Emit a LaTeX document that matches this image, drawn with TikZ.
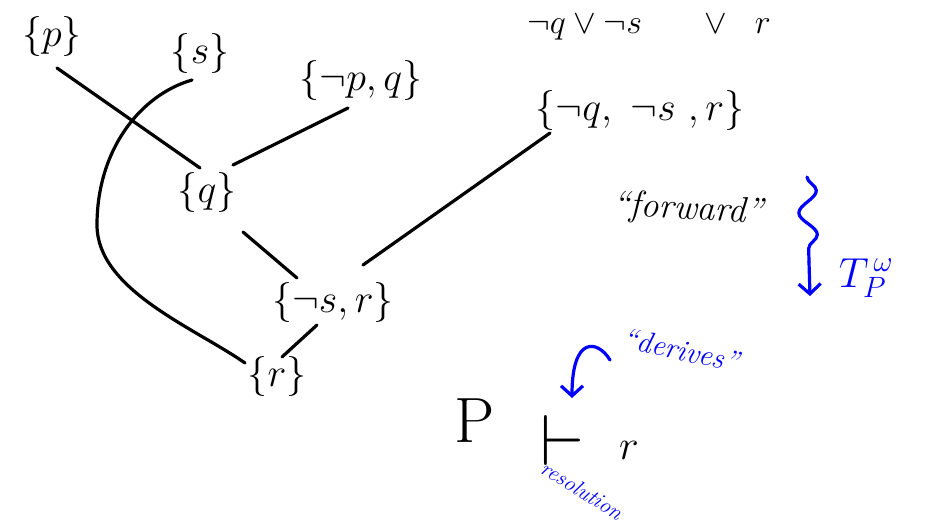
\RequirePackage{fix-cm}
\documentclass[tikz,border=0pt]{standalone}
\usetikzlibrary{decorations.pathmorphing,arrows.meta}
\begin{document}
\begin{tikzpicture}[x=1pt,y=-1pt,
  set/.style={font=\fontsize{40}{44}\selectfont, inner sep=0pt},
  edge/.style={line width=3.2pt, line cap=round, black},
  note/.style={blue, font=\fontsize{30}{34}\selectfont\itshape, inner sep=0pt},
  bluearrow/.style={blue, line width=3.2pt, line cap=round, line join=round, -{Straight Barb[length=10pt,width=22pt,line width=3.2pt]}}
]
\useasboundingbox (0,0) rectangle (930,528);
\fill[white] (0,0) rectangle (930,528);
% nodes
\node[set] (p) at (52,36) {$\{p\}$};
\node[set] (s) at (200,53) {$\{s\}$};
\node[set] (npq) at (361,80) {$\{\neg p, q\}$};
\node[set] (q) at (207,192) {$\{q\}$};
\node[set] (nqnsr) at (640,110) {$\{\neg q,\ \neg s\ , r\}$};
\node[font=\fontsize{34}{38}\selectfont, inner sep=0pt] (clause) at (649,27) {$\neg q \vee \neg s \quad\ \ \vee\ \ r$};
\node[set] (nsr) at (333,302) {$\{\neg s, r\}$};
\node[set] (r) at (277,376) {$\{r\}$};
\node[font=\fontsize{36}{40}\selectfont\itshape, inner sep=0pt, rotate=-3] (fwd) at (688,210) {``forward''};
\node[blue, font=\fontsize{42}{46}\selectfont, inner sep=0pt] (tp) at (866,278) {$T_P^{\,\omega}$};
\node[note, rotate=-12] (der) at (681,350) {``derives''};
\node[font=\fontsize{64}{70}\selectfont, inner sep=0pt] (P) at (475,421) {P};
\node[font=\fontsize{72}{78}\selectfont, inner sep=0pt] (ts) at (562,440) {$\vdash$};
\node[font=\fontsize{42}{46}\selectfont, inner sep=0pt] (rr) at (629,450) {$r$};
\node[note, font=\fontsize{22}{26}\selectfont\itshape, rotate=-32] (res) at (582,490) {resolution};
% connectors
\draw[edge] ([shift={(5,32)}]p.center) -- ([shift={(-7,-24)}]q.center);
\draw[edge] ([shift={(-13,28)}]npq.center) -- ([shift={(26,-27)}]q.center);
\draw[edge] ([shift={(36,40)}]q.center) -- ([shift={(-36,-24)}]nsr.center);
\draw[edge] ([shift={(-90,23)}]nqnsr.center) -- ([shift={(30,-37)}]nsr.center);
\draw[edge] ([shift={(-16,23)}]nsr.center) -- ([shift={(5,-19)}]r.center);
\draw[edge] ([shift={(-8,27)}]s.center) .. controls (140,95) and (97,150) .. (97,225)
  .. controls (97,290) and (195,328) .. ([shift={(-32,-13)}]r.center);
% forward arrow
\coordinate (wtop) at (807,177);
\coordinate (wmid) at (809,262);
\coordinate (wbot) at (810,296);
\draw[blue, line width=3.2pt, line cap=round, decorate, decoration={snake, segment length=44pt, amplitude=9pt}] (wtop) -- (wmid);
\draw[bluearrow] (wmid) -- (wbot);
% derives arrow
\draw[bluearrow] ([shift={(-71,10)}]der.center) .. controls (598,340) and (572,335) .. ([shift={(10,-42)}]ts.center);
\end{tikzpicture}
\end{document}
